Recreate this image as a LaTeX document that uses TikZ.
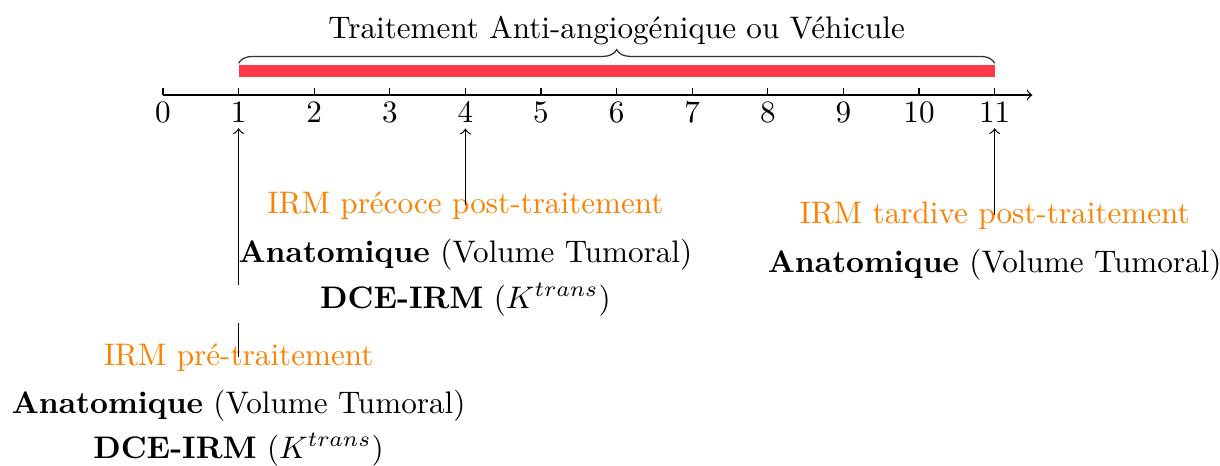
\documentclass[tikz,border=0pt]{standalone}
\usepackage[utf8]{inputenc}
\usepackage{tikz}
\usetikzlibrary{decorations.pathreplacing}
\definecolor{barred}{RGB}{255,56,72}
\tikzset{
  irm/.style={anchor=base, text=orange},
  seq/.style={anchor=base},
  ticklab/.style={below, inner sep=1.8pt}
}
\begin{document}
\begin{tikzpicture}[x=0.853cm, y=0.853cm]
\useasboundingbox (-2.156, 1.257) rectangle (13.981, -4.894);
% axe du temps
\draw[->] (0,0) -- (11.5,0);
\foreach \k in {0,...,11}
  \draw (\k,0) -- (\k,0.09) node[ticklab] (t\k) at (\k,0) {\k};
% traitement
\fill[barred] (1,0.241) rectangle (11,0.397);
\draw[decorate, decoration={brace, amplitude=4.4pt}, draw=black!80] (1,0.42) -- (11,0.42);
\node[anchor=base] (trt) at (6,0.754) {Traitement Anti-angiogénique ou Véhicule};
% IRM pre-traitement
\node[irm] (pre) at (1,-3.571) {IRM pré-traitement};
\node[seq] (preA) at (1,-4.206) {\textbf{Anatomique} (Volume Tumoral)};
\node[seq] (preD) at (1,-4.802) {\textbf{DCE-IRM} ($K^{trans}$)};
% IRM precoce
\node[irm] (early) at (4,-1.561) {IRM précoce post-traitement};
\node[seq] (earlyA) at (4,-2.209) {\textbf{Anatomique} (Volume Tumoral)};
\node[seq] (earlyD) at (4,-2.817) {\textbf{DCE-IRM} ($K^{trans}$)};
% IRM tardive
\node[irm] (late) at (11,-1.693) {IRM tardive post-traitement};
\node[seq] (lateA) at (11,-2.341) {\textbf{Anatomique} (Volume Tumoral)};
\coordinate (gapbot) at (1,-3.016);
\coordinate (gaptop) at (1,-2.513);
\draw (pre.center) -- (gapbot);
\draw[->] (gaptop) -- (t1.south);
\draw[->] (early.center) -- (t4.south);
\draw[->] (late.center) -- (t11.south);
\end{tikzpicture}
\end{document}
